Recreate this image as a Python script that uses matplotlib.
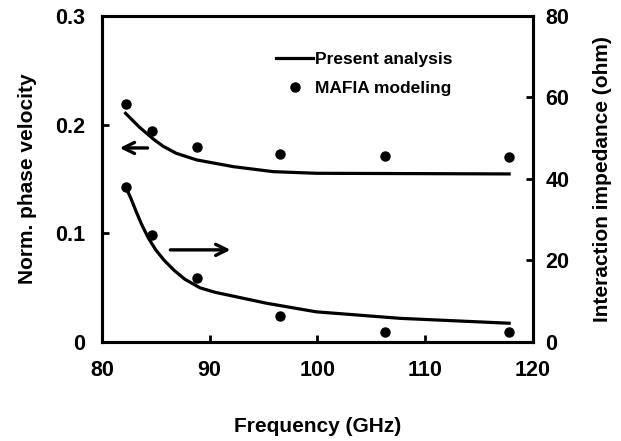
import matplotlib.pyplot as plt
from matplotlib.lines import Line2D

plt.rcParams['font.family'] = ['Liberation Sans', 'DejaVu Sans']
plt.rcParams['font.weight'] = 'bold'

# phase velocity (left axis)
freq_line_v = [82.2, 83.5, 84.8, 85.7, 86.9, 88.8, 92.2, 95.9, 99.9, 117.8]
vel_line = [0.2104, 0.1975, 0.1865, 0.1800, 0.1736, 0.1675, 0.1613, 0.1567, 0.1552, 0.1546]
freq_dots_v = [82.2, 84.7, 88.8, 96.5, 106.3, 117.8]
vel_dots = [0.219, 0.194, 0.179, 0.173, 0.171, 0.170]

# interaction impedance (right axis)
freq_line_z = [82.2, 82.7, 83.2, 83.7, 84.3, 85.0, 85.8, 86.7, 87.7, 89.1, 90.5,
               95.3, 99.9, 107.7, 117.8]
imp_line = [38.1, 35.2, 31.9, 28.8, 25.6, 22.6, 20.0, 17.6, 15.4, 13.3, 12.2,
            9.5, 7.4, 5.8, 4.6]
freq_dots_z = [82.2, 84.7, 88.8, 96.5, 106.3, 117.8]
imp_dots = [38.0, 26.3, 15.7, 6.4, 2.5, 2.5]

fig = plt.figure(figsize=(6.21, 4.41), dpi=100)
ax = fig.add_axes([0.164, 0.2245, 0.694, 0.7395])
ax2 = ax.twinx()

ax.plot(freq_line_v, vel_line, '-', color='black', linewidth=2.3)
ax.plot(freq_dots_v, vel_dots, 'o', color='black', markersize=6.5)
ax2.plot(freq_line_z, imp_line, '-', color='black', linewidth=2.3)
ax2.plot(freq_dots_z, imp_dots, 'o', color='black', markersize=6.5)

ax.set_xlim(80, 120)
ax.set_ylim(0, 0.3)
ax2.set_ylim(0, 80)
ax.set_xticks([80, 90, 100, 110, 120])
ax.set_yticks([0, 0.1, 0.2, 0.3])
ax.set_yticklabels(['0', '0.1', '0.2', '0.3'])
ax2.set_yticks([0, 20, 40, 60, 80])

for a in (ax, ax2):
    for s in a.spines.values():
        s.set_linewidth(2.2)
ax.tick_params(axis='x', direction='in', length=5, width=2, labelsize=15.5, pad=13)
ax.tick_params(axis='y', direction='in', length=5, width=2, labelsize=15.5, pad=12)
ax2.tick_params(axis='y', direction='in', length=5, width=2, labelsize=15.5, pad=9)

ax.set_xlabel('Frequency (GHz)', fontsize=15, fontweight='bold', labelpad=26)
ax.set_ylabel('Norm. phase velocity', fontsize=15, fontweight='bold', labelpad=13)
ax2.set_ylabel('Interaction impedance (ohm)', fontsize=15, fontweight='bold', labelpad=17)

# arrows pointing to the axes
ax.annotate('', xy=(81.4, 0.1785), xytext=(84.5, 0.1785),
            arrowprops=dict(arrowstyle='->', color='black', lw=2.4, mutation_scale=20))
ax2.annotate('', xy=(92.2, 22.6), xytext=(86.1, 22.6),
             arrowprops=dict(arrowstyle='->', color='black', lw=2.4, mutation_scale=20))

handles = [Line2D([], [], color='black', linewidth=2.3),
           Line2D([], [], color='black', marker='o', linestyle='none', markersize=6.5)]
ax.legend(handles, ['Present analysis', 'MAFIA modeling'], loc='upper left',
          bbox_to_anchor=(0.385, 0.915), frameon=False,
          handlelength=2.1, handletextpad=0.1, borderpad=0, labelspacing=0.75,
          prop={'weight': 'bold', 'size': 12.5})

plt.savefig('out.png', dpi=100)
